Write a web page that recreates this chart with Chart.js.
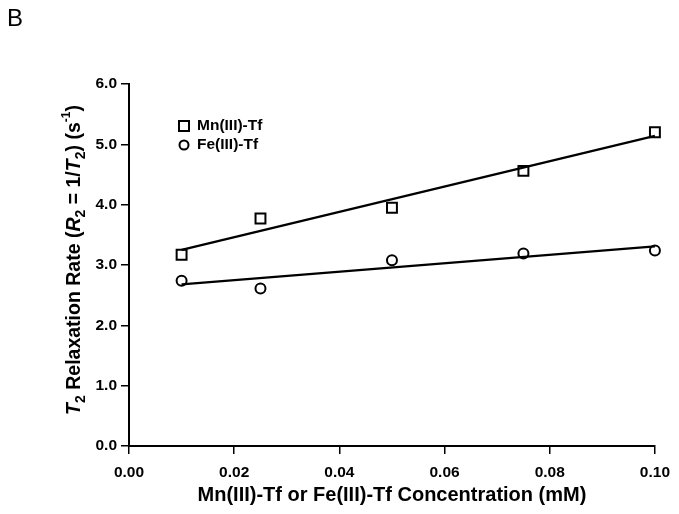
<!DOCTYPE html>
<html>
<head>
<meta charset="utf-8">
<script src="https://cdn.jsdelivr.net/npm/chart.js@4.4.0/dist/chart.umd.min.js"></script>
<style>
  html, body { margin: 0; padding: 0; background: #fff; }
  #wrap { width: 679px; height: 514px; position: relative; }
</style>
</head>
<body>
<div id="wrap"><canvas id="relaxChart" width="679" height="514"></canvas></div>
<script>
// concentrations (mM)
const concentrations = [0.01, 0.025, 0.05, 0.075, 0.10];
// measured R2 (s^-1)
const mnValues = [3.17, 3.77, 3.95, 4.56, 5.20];
const feValues = [2.74, 2.61, 3.08, 3.19, 3.24];
// fitted lines, read at the ends
const fitX = [0.01, 0.10];
const mnFit = [3.25, 5.14];
const feFit = [2.68, 3.31];

const xTicks = [0, 0.02, 0.04, 0.06, 0.08, 0.10];
const yTicks = [0, 1, 2, 3, 4, 5, 6];

const seriesLabels = ['Mn(III)-Tf', 'Fe(III)-Tf'];
const FONT = 'Liberation Sans, Arial, Helvetica, sans-serif';

function toPoints(xs, ys) {
  return xs.map((x, i) => ({ x: x, y: ys[i] }));
}

// legend, axis titles and panel letter
const annotations = {
  id: 'annotations',
  afterDraw(chart) {
    const ctx = chart.ctx;
    const xs = chart.scales.x;
    ctx.save();
    ctx.fillStyle = '#000';
    ctx.strokeStyle = '#000';

    // panel letter
    ctx.font = '24px ' + FONT;
    ctx.textBaseline = 'alphabetic';
    ctx.textAlign = 'left';
    ctx.fillText('B', 7, 26);

    // legend
    ctx.lineWidth = 2;
    ctx.strokeRect(179, 121, 10, 10);
    ctx.beginPath();
    ctx.arc(184, 145, 4.5, 0, Math.PI * 2);
    ctx.stroke();
    ctx.font = 'bold 15.5px ' + FONT;
    ctx.textBaseline = 'middle';
    ctx.fillText(seriesLabels[0], 197, 126);
    ctx.fillText(seriesLabels[1], 197, 145);

    // x title
    ctx.font = 'bold 20px ' + FONT;
    ctx.textAlign = 'center';
    ctx.fillText('Mn(III)-Tf or Fe(III)-Tf Concentration (mM)', (xs.left + xs.right) / 2, 495);

    // y title, mixed styles
    const parts = [
      { t: 'T', f: 'italic bold 19.5px', dy: 0 },
      { t: '2', f: 'bold 14px', dy: 6 },
      { t: ' Relaxation Rate (', f: 'bold 19.5px', dy: 0 },
      { t: 'R', f: 'italic bold 19.5px', dy: 0 },
      { t: '2', f: 'bold 14px', dy: 6 },
      { t: ' = 1/', f: 'bold 19.5px', dy: 0 },
      { t: 'T', f: 'italic bold 19.5px', dy: 0 },
      { t: '2', f: 'bold 14px', dy: 6 },
      { t: ') (s', f: 'bold 19.5px', dy: 0 },
      { t: '-1', f: 'bold 12px', dy: -8 },
      { t: ')', f: 'bold 19.5px', dy: 0 }
    ];
    let total = 0;
    for (const p of parts) {
      ctx.font = p.f + ' ' + FONT;
      p.w = ctx.measureText(p.t).width;
      total += p.w;
    }
    ctx.translate(75, 260);
    ctx.rotate(-Math.PI / 2);
    ctx.textAlign = 'left';
    ctx.textBaseline = 'middle';
    let cx = -total / 2;
    for (const p of parts) {
      ctx.font = p.f + ' ' + FONT;
      ctx.fillText(p.t, cx, p.dy);
      cx += p.w;
    }
    ctx.restore();
  }
};

new Chart(document.getElementById('relaxChart'), {
  type: 'scatter',
  data: {
    datasets: [
      {
        label: seriesLabels[0],
        data: toPoints(concentrations, mnValues),
        pointStyle: 'rect',
        pointRadius: 7,
        pointBorderWidth: 2,
        pointBorderColor: '#000',
        pointBackgroundColor: 'rgba(0,0,0,0)',
        showLine: false,
        clip: false
      },
      {
        label: seriesLabels[1],
        data: toPoints(concentrations, feValues),
        pointStyle: 'circle',
        pointRadius: 5,
        pointBorderWidth: 2,
        pointBorderColor: '#000',
        pointBackgroundColor: 'rgba(0,0,0,0)',
        showLine: false,
        clip: false
      },
      {
        label: 'Mn fit',
        data: toPoints(fitX, mnFit),
        showLine: true,
        borderColor: '#000',
        borderWidth: 2.2,
        pointRadius: 0,
        clip: false
      },
      {
        label: 'Fe fit',
        data: toPoints(fitX, feFit),
        showLine: true,
        borderColor: '#000',
        borderWidth: 2.2,
        pointRadius: 0,
        clip: false
      }
    ]
  },
  options: {
    responsive: false,
    animation: false,
    layout: { padding: { top: 84, right: 23, bottom: 0, left: 0 } },
    plugins: {
      legend: { display: false },
      tooltip: { enabled: false }
    },
    scales: {
      x: {
        type: 'linear',
        min: 0,
        max: 0.1,
        afterFit: (s) => { s.height = 68; },
        afterBuildTicks: (s) => { s.ticks = xTicks.map(v => ({ value: v })); },
        ticks: {
          color: '#000',
          font: { family: FONT, size: 15.5, weight: 'bold' },
          padding: 9,
          maxRotation: 0,
          callback: (v) => v.toFixed(2)
        },
        grid: {
          drawOnChartArea: false,
          drawTicks: true,
          tickLength: 8,
          color: '#000',
          lineWidth: 1.5
        },
        border: { color: '#000', width: 2 }
      },
      y: {
        type: 'linear',
        min: 0,
        max: 6,
        afterFit: (s) => { s.width = 129; },
        afterBuildTicks: (s) => { s.ticks = yTicks.map(v => ({ value: v })); },
        ticks: {
          color: '#000',
          font: { family: FONT, size: 15.5, weight: 'bold' },
          padding: 4,
          callback: (v) => v.toFixed(1)
        },
        grid: {
          drawOnChartArea: false,
          drawTicks: true,
          tickLength: 8,
          color: '#000',
          lineWidth: 1.5
        },
        border: { color: '#000', width: 2 }
      }
    }
  },
  plugins: [annotations]
});
</script>
</body>
</html>
